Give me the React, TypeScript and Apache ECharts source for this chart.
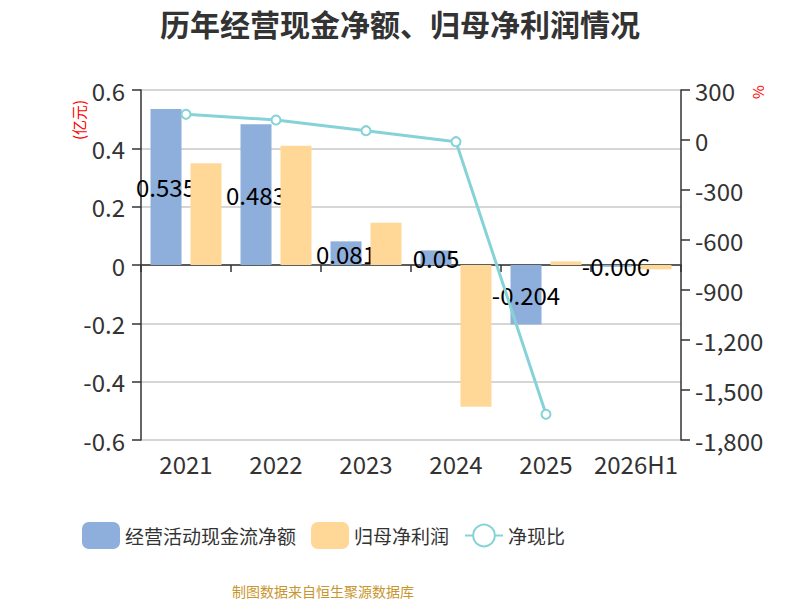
import React, { useEffect, useRef } from "react";
import * as echarts from "echarts";

const categories = ["2021", "2022", "2023", "2024", "2025", "2026H1"];
const cashFlow = [0.535, 0.483, 0.081, 0.05, -0.204, -0.006];
const netProfit = [0.349, 0.409, 0.145, -0.486, 0.0124, -0.015];
const cashRatio: (number | null)[] = [154, 120, 56, -10, -1646, null];

const FONT = "'Noto Sans CJK SC', 'Noto Sans', sans-serif";

export default function App() {
  const ref = useRef<HTMLDivElement>(null);
  useEffect(() => {
    if (!ref.current) return;
    const chart = echarts.init(ref.current, undefined, { renderer: "svg" });
    chart.setOption({
      animation: false,
      textStyle: { fontFamily: FONT },
      title: {
        text: "历年经营现金净额、归母净利润情况",
        left: "center",
        top: 8,
        padding: 0,
        textStyle: { fontSize: 30, fontWeight: "bold", color: "#333", fontFamily: FONT },
      },
      legend: {
        left: 82,
        top: 522,
        padding: 0,
        itemWidth: 38,
        itemHeight: 27,
        itemGap: 15,
        textStyle: { fontSize: 19, color: "#333", fontFamily: FONT },
        data: [
          { name: "经营活动现金流净额", icon: "roundRect" },
          { name: "归母净利润", icon: "roundRect" },
          { name: "净现比" },
        ],
      },
      grid: { left: 141, right: 119, top: 90, bottom: 160 },
      xAxis: [
        {
          type: "category",
          data: categories,
          position: "bottom",
          axisLine: { show: false, onZero: false },
          axisTick: { show: false },
          axisLabel: { interval: 0, fontSize: 24, color: "#333", margin: 11, fontFamily: FONT },
          splitLine: { show: false },
        },
        {
          type: "category",
          data: categories,
          position: "bottom",
          axisLine: { show: true, onZero: true, onZeroAxisIndex: 0, lineStyle: { color: "#333", width: 1.5 } },
          axisTick: { show: true, length: 7, lineStyle: { color: "#333", width: 1.5 } },
          axisLabel: { show: false },
          splitLine: { show: false },
        },
      ],
      yAxis: [
        {
          type: "value",
          min: -0.6,
          max: 0.6,
          interval: 0.2,
          axisLine: { show: true, lineStyle: { color: "#333", width: 1.5 } },
          axisTick: { show: true, length: 9, lineStyle: { color: "#333", width: 1.5 } },
          axisLabel: {
            fontSize: 24,
            color: "#333",
            margin: 16,
            fontFamily: FONT,
            formatter: (v: number) => String(Math.round(v * 10) / 10),
          },
          splitLine: { show: true, lineStyle: { color: "#c8c8c8", width: 1.5 } },
        },
        {
          type: "value",
          min: -1800,
          max: 300,
          interval: 300,
          position: "right",
          axisLine: { show: true, lineStyle: { color: "#333", width: 1.5 } },
          axisTick: { show: true, length: 9, lineStyle: { color: "#333", width: 1.5 } },
          axisLabel: {
            fontSize: 24,
            color: "#333",
            margin: 14,
            fontFamily: FONT,
            formatter: (v: number) => v.toLocaleString("en-US"),
          },
          splitLine: { show: false },
        },
      ],
      graphic: [
        {
          type: "text",
          x: 78,
          y: 120,
          rotation: Math.PI / 2,
          style: {
            text: "(亿元)",
            fill: "#ff0000",
            fontSize: 15,
            fontFamily: FONT,
            align: "center",
            verticalAlign: "middle",
          },
        },
        {
          type: "text",
          x: 757,
          y: 92,
          rotation: Math.PI / 2,
          style: {
            text: "%",
            fill: "#ff0000",
            fontSize: 15,
            fontFamily: FONT,
            align: "center",
            verticalAlign: "middle",
          },
        },
        {
          type: "text",
          x: 323,
          y: 591,
          style: {
            text: "制图数据来自恒生聚源数据库",
            fill: "#c8962e",
            fontSize: 14,
            fontFamily: FONT,
            align: "center",
            verticalAlign: "middle",
          },
        },
      ],
      series: [
        {
          name: "经营活动现金流净额",
          type: "bar",
          data: cashFlow,
          barWidth: 31,
          barGap: "29%",
          z: 2,
          itemStyle: { color: "#8eaedb" },
          label: {
            show: true,
            position: "inside",
            color: "#000",
            fontSize: 24,
            fontFamily: FONT,
          },
        },
        {
          name: "归母净利润",
          type: "bar",
          data: netProfit,
          barWidth: 31,
          barGap: "29%",
          z: 3,
          itemStyle: { color: "#ffd897" },
        },
        {
          name: "净现比",
          type: "line",
          yAxisIndex: 1,
          data: cashRatio,
          z: 4,
          symbol: "emptyCircle",
          symbolSize: 9,
          itemStyle: { color: "#86d3d7", borderWidth: 2 },
          lineStyle: { color: "#86d3d7", width: 3 },
        },
      ],
    });
    return () => chart.dispose();
  }, []);
  return (
    <div
      ref={ref}
      style={{ position: "absolute", left: 0, top: 0, width: 800, height: 600 }}
    />
  );
}
